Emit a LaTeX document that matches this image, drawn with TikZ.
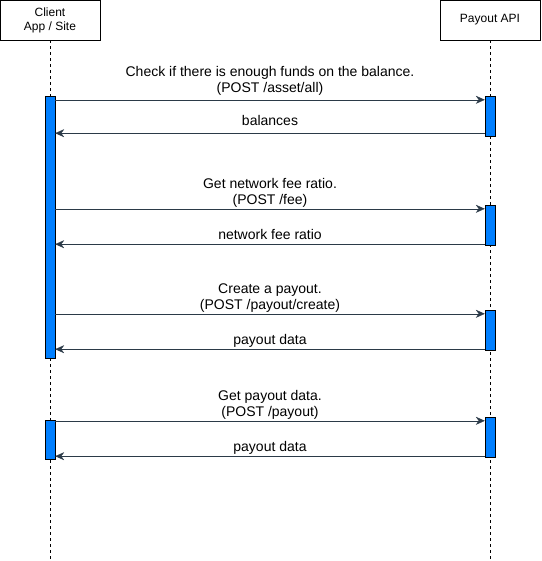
\documentclass[tikz,border=0pt]{standalone}
\usepackage{fontspec}
\setmainfont{Liberation Sans}
\usetikzlibrary{arrows.meta}
\definecolor{actblue}{HTML}{007FFF}
\definecolor{msgcol}{HTML}{2B3A48}

\begin{document}
\begin{tikzpicture}[x=1pt, y=-1pt, font=\fontsize{12}{14}\selectfont,
  actor/.style={draw, minimum width=100pt, minimum height=40pt, align=center, inner sep=0pt},
  life/.style={dash pattern=on 3pt off 3pt},
  act/.style={draw, fill=actblue, minimum width=10pt, inner sep=0pt},
  msg/.style={draw=msgcol, -{Stealth[length=9pt,width=8pt]}},
  lbl/.style={midway, above=#1, align=center, inner sep=0pt, text depth=0pt,
    font=\fontsize{14}{16}\selectfont},
  lbl/.default=4.5pt,]
   \useasboundingbox (0,0) rectangle (541,561);
   % lifelines
   \node[actor] (client) at (50,20) {Client\\App / Site};
   \node[actor] (api) at (490,20) {Payout API};
   \coordinate (cend) at (50,561);
   \coordinate (aend) at (490,561);
   \draw[life] (client) -- (cend);
   \draw[life] (api) -- (aend);
   % activations
   \node[act, minimum height=262pt] (c1) at (50,227) {};
   \node[act, minimum height=39pt] (c2) at (50,439.5) {};
   \node[act, minimum height=40pt] (a1) at (490,116) {};
   \node[act, minimum height=40pt] (a2) at (490,225) {};
   \node[act, minimum height=40pt] (a3) at (490,330) {};
   \node[act, minimum height=40pt] (a4) at (490,437) {};
   % messages
   \coordinate (s1) at ([yshift=-4pt]a1.north west);
   \coordinate (r1) at ([yshift=3pt]a1.south west);
   \coordinate (s2) at ([yshift=-4pt]a2.north west);
   \coordinate (r2) at ([yshift=1pt]a2.south west);
   \coordinate (s3) at ([yshift=-4pt]a3.north west);
   \coordinate (r3) at ([yshift=1pt]a3.south west);
   \coordinate (s4) at ([yshift=-4pt]a4.north west);
   \coordinate (r4) at ([yshift=1pt]a4.south west);
   \draw[msg] (c1.east |- s1) -- node[lbl=7pt] {Check if there is enough funds on the balance.\\(POST /asset/all)} (s1);
   \draw[msg] (r1) -- node[lbl=7pt] {balances} (c1.east |- r1);
   \draw[msg] (c1.east |- s2) -- node[lbl] {Get network fee ratio.\\(POST /fee)} (s2);
   \draw[msg] (r2) -- node[lbl] {network fee ratio} (c1.east |- r2);
   \draw[msg] (c1.east |- s3) -- node[lbl] {Create a payout.\\(POST /payout/create)} (s3);
   \draw[msg] (r3) -- node[lbl] {payout data} (c1.east |- r3);
   \draw[msg] (c2.east |- s4) -- node[lbl] {Get payout data.\\(POST /payout)} (s4);
   \draw[msg] (r4) -- node[lbl] {payout data} (c2.east |- r4);
\end{tikzpicture}
\end{document}
